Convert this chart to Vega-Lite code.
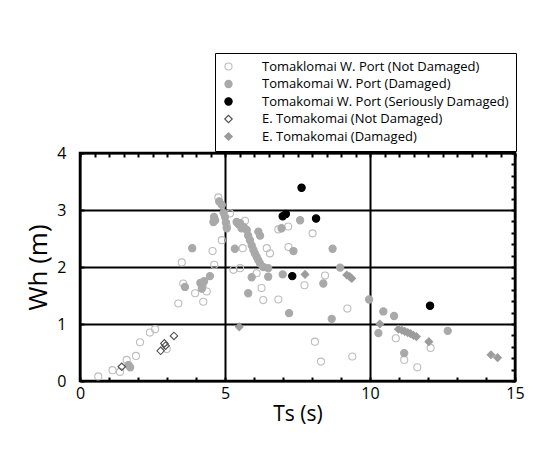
{
  "$schema": "https://vega.github.io/schema/vega-lite/v6.json",
  "width": 435,
  "height": 228,
  "autosize": {"type": "none"},
  "padding": {"left": 80, "top": 153, "right": 18, "bottom": 75},
  "background": "white",
  "config": {
    "view": {"stroke": "black", "strokeWidth": 2.5},
    "font": "Open Sans"
  },
  "data": {
    "values": [
      {"ts": 0.63, "wh": 0.08, "group": "Tomaklomai W. Port (Not Damaged)"},
      {"ts": 1.12, "wh": 0.19, "group": "Tomaklomai W. Port (Not Damaged)"},
      {"ts": 1.38, "wh": 0.16, "group": "Tomaklomai W. Port (Not Damaged)"},
      {"ts": 1.61, "wh": 0.37, "group": "Tomaklomai W. Port (Not Damaged)"},
      {"ts": 1.93, "wh": 0.44, "group": "Tomaklomai W. Port (Not Damaged)"},
      {"ts": 2.07, "wh": 0.68, "group": "Tomaklomai W. Port (Not Damaged)"},
      {"ts": 2.41, "wh": 0.85, "group": "Tomaklomai W. Port (Not Damaged)"},
      {"ts": 2.59, "wh": 0.91, "group": "Tomaklomai W. Port (Not Damaged)"},
      {"ts": 2.99, "wh": 0.56, "group": "Tomaklomai W. Port (Not Damaged)"},
      {"ts": 3.39, "wh": 1.36, "group": "Tomaklomai W. Port (Not Damaged)"},
      {"ts": 3.51, "wh": 2.08, "group": "Tomaklomai W. Port (Not Damaged)"},
      {"ts": 3.56, "wh": 1.71, "group": "Tomaklomai W. Port (Not Damaged)"},
      {"ts": 3.97, "wh": 1.54, "group": "Tomaklomai W. Port (Not Damaged)"},
      {"ts": 4.25, "wh": 1.39, "group": "Tomaklomai W. Port (Not Damaged)"},
      {"ts": 4.37, "wh": 1.57, "group": "Tomaklomai W. Port (Not Damaged)"},
      {"ts": 4.57, "wh": 2.28, "group": "Tomaklomai W. Port (Not Damaged)"},
      {"ts": 4.63, "wh": 2.04, "group": "Tomaklomai W. Port (Not Damaged)"},
      {"ts": 4.77, "wh": 3.22, "group": "Tomaklomai W. Port (Not Damaged)"},
      {"ts": 4.89, "wh": 2.47, "group": "Tomaklomai W. Port (Not Damaged)"},
      {"ts": 5.06, "wh": 2.72, "group": "Tomaklomai W. Port (Not Damaged)"},
      {"ts": 5.17, "wh": 2.94, "group": "Tomaklomai W. Port (Not Damaged)"},
      {"ts": 5.29, "wh": 1.95, "group": "Tomaklomai W. Port (Not Damaged)"},
      {"ts": 5.52, "wh": 1.98, "group": "Tomaklomai W. Port (Not Damaged)"},
      {"ts": 5.61, "wh": 2.33, "group": "Tomaklomai W. Port (Not Damaged)"},
      {"ts": 5.69, "wh": 2.81, "group": "Tomaklomai W. Port (Not Damaged)"},
      {"ts": 6.09, "wh": 1.89, "group": "Tomaklomai W. Port (Not Damaged)"},
      {"ts": 6.26, "wh": 1.63, "group": "Tomaklomai W. Port (Not Damaged)"},
      {"ts": 6.32, "wh": 1.42, "group": "Tomaklomai W. Port (Not Damaged)"},
      {"ts": 6.44, "wh": 2.33, "group": "Tomaklomai W. Port (Not Damaged)"},
      {"ts": 6.55, "wh": 2.24, "group": "Tomaklomai W. Port (Not Damaged)"},
      {"ts": 6.84, "wh": 2.66, "group": "Tomaklomai W. Port (Not Damaged)"},
      {"ts": 6.84, "wh": 1.43, "group": "Tomaklomai W. Port (Not Damaged)"},
      {"ts": 7.18, "wh": 2.71, "group": "Tomaklomai W. Port (Not Damaged)"},
      {"ts": 7.19, "wh": 2.35, "group": "Tomaklomai W. Port (Not Damaged)"},
      {"ts": 7.74, "wh": 1.68, "group": "Tomaklomai W. Port (Not Damaged)"},
      {"ts": 8.02, "wh": 2.59, "group": "Tomaklomai W. Port (Not Damaged)"},
      {"ts": 8.45, "wh": 1.85, "group": "Tomaklomai W. Port (Not Damaged)"},
      {"ts": 8.1, "wh": 0.69, "group": "Tomaklomai W. Port (Not Damaged)"},
      {"ts": 8.31, "wh": 0.34, "group": "Tomaklomai W. Port (Not Damaged)"},
      {"ts": 9.22, "wh": 1.27, "group": "Tomaklomai W. Port (Not Damaged)"},
      {"ts": 9.39, "wh": 0.43, "group": "Tomaklomai W. Port (Not Damaged)"},
      {"ts": 10.89, "wh": 0.75, "group": "Tomaklomai W. Port (Not Damaged)"},
      {"ts": 11.18, "wh": 0.37, "group": "Tomaklomai W. Port (Not Damaged)"},
      {"ts": 11.63, "wh": 0.24, "group": "Tomaklomai W. Port (Not Damaged)"},
      {"ts": 12.09, "wh": 0.58, "group": "Tomaklomai W. Port (Not Damaged)"},

      {"ts": 1.67, "wh": 0.28, "group": "Tomakomai W. Port (Damaged)"},
      {"ts": 1.73, "wh": 0.24, "group": "Tomakomai W. Port (Damaged)"},
      {"ts": 3.62, "wh": 1.65, "group": "Tomakomai W. Port (Damaged)"},
      {"ts": 3.87, "wh": 2.33, "group": "Tomakomai W. Port (Damaged)"},
      {"ts": 4.15, "wh": 1.72, "group": "Tomakomai W. Port (Damaged)"},
      {"ts": 4.22, "wh": 1.66, "group": "Tomakomai W. Port (Damaged)"},
      {"ts": 4.28, "wh": 1.75, "group": "Tomakomai W. Port (Damaged)"},
      {"ts": 4.2, "wh": 1.62, "group": "Tomakomai W. Port (Damaged)"},
      {"ts": 4.48, "wh": 1.84, "group": "Tomakomai W. Port (Damaged)"},
      {"ts": 4.62, "wh": 2.88, "group": "Tomakomai W. Port (Damaged)"},
      {"ts": 4.66, "wh": 2.82, "group": "Tomakomai W. Port (Damaged)"},
      {"ts": 4.6, "wh": 2.79, "group": "Tomakomai W. Port (Damaged)"},
      {"ts": 4.8, "wh": 3.15, "group": "Tomakomai W. Port (Damaged)"},
      {"ts": 4.89, "wh": 3.09, "group": "Tomakomai W. Port (Damaged)"},
      {"ts": 4.95, "wh": 2.95, "group": "Tomakomai W. Port (Damaged)"},
      {"ts": 5.0, "wh": 2.88, "group": "Tomakomai W. Port (Damaged)"},
      {"ts": 5.03, "wh": 2.78, "group": "Tomakomai W. Port (Damaged)"},
      {"ts": 5.06, "wh": 2.68, "group": "Tomakomai W. Port (Damaged)"},
      {"ts": 5.34, "wh": 2.32, "group": "Tomakomai W. Port (Damaged)"},
      {"ts": 5.4, "wh": 2.79, "group": "Tomakomai W. Port (Damaged)"},
      {"ts": 5.47, "wh": 2.75, "group": "Tomakomai W. Port (Damaged)"},
      {"ts": 5.52, "wh": 2.77, "group": "Tomakomai W. Port (Damaged)"},
      {"ts": 5.57, "wh": 2.68, "group": "Tomakomai W. Port (Damaged)"},
      {"ts": 5.65, "wh": 2.7, "group": "Tomakomai W. Port (Damaged)"},
      {"ts": 5.75, "wh": 2.65, "group": "Tomakomai W. Port (Damaged)"},
      {"ts": 5.8, "wh": 2.55, "group": "Tomakomai W. Port (Damaged)"},
      {"ts": 5.86, "wh": 2.47, "group": "Tomakomai W. Port (Damaged)"},
      {"ts": 5.92, "wh": 2.38, "group": "Tomakomai W. Port (Damaged)"},
      {"ts": 5.98, "wh": 2.3, "group": "Tomakomai W. Port (Damaged)"},
      {"ts": 6.03, "wh": 2.24, "group": "Tomakomai W. Port (Damaged)"},
      {"ts": 6.09, "wh": 2.18, "group": "Tomakomai W. Port (Damaged)"},
      {"ts": 6.15, "wh": 2.12, "group": "Tomakomai W. Port (Damaged)"},
      {"ts": 6.21, "wh": 2.06, "group": "Tomakomai W. Port (Damaged)"},
      {"ts": 6.32, "wh": 2.0, "group": "Tomakomai W. Port (Damaged)"},
      {"ts": 6.15, "wh": 2.62, "group": "Tomakomai W. Port (Damaged)"},
      {"ts": 6.21, "wh": 2.55, "group": "Tomakomai W. Port (Damaged)"},
      {"ts": 5.8, "wh": 1.54, "group": "Tomakomai W. Port (Damaged)"},
      {"ts": 5.92, "wh": 1.82, "group": "Tomakomai W. Port (Damaged)"},
      {"ts": 6.49, "wh": 1.98, "group": "Tomakomai W. Port (Damaged)"},
      {"ts": 6.49, "wh": 1.83, "group": "Tomakomai W. Port (Damaged)"},
      {"ts": 6.95, "wh": 2.68, "group": "Tomakomai W. Port (Damaged)"},
      {"ts": 6.99, "wh": 1.87, "group": "Tomakomai W. Port (Damaged)"},
      {"ts": 7.21, "wh": 1.19, "group": "Tomakomai W. Port (Damaged)"},
      {"ts": 7.36, "wh": 2.28, "group": "Tomakomai W. Port (Damaged)"},
      {"ts": 7.59, "wh": 2.82, "group": "Tomakomai W. Port (Damaged)"},
      {"ts": 8.39, "wh": 1.71, "group": "Tomakomai W. Port (Damaged)"},
      {"ts": 8.68, "wh": 1.09, "group": "Tomakomai W. Port (Damaged)"},
      {"ts": 8.71, "wh": 2.32, "group": "Tomakomai W. Port (Damaged)"},
      {"ts": 8.97, "wh": 1.99, "group": "Tomakomai W. Port (Damaged)"},
      {"ts": 9.97, "wh": 1.43, "group": "Tomakomai W. Port (Damaged)"},
      {"ts": 10.46, "wh": 1.22, "group": "Tomakomai W. Port (Damaged)"},
      {"ts": 10.83, "wh": 1.14, "group": "Tomakomai W. Port (Damaged)"},
      {"ts": 10.29, "wh": 0.84, "group": "Tomakomai W. Port (Damaged)"},
      {"ts": 11.18, "wh": 0.49, "group": "Tomakomai W. Port (Damaged)"},
      {"ts": 12.68, "wh": 0.88, "group": "Tomakomai W. Port (Damaged)"},

      {"ts": 1.44, "wh": 0.25, "group": "E. Tomakomai (Not Damaged)"},
      {"ts": 2.78, "wh": 0.53, "group": "E. Tomakomai (Not Damaged)"},
      {"ts": 2.91, "wh": 0.66, "group": "E. Tomakomai (Not Damaged)"},
      {"ts": 2.95, "wh": 0.62, "group": "E. Tomakomai (Not Damaged)"},
      {"ts": 3.24, "wh": 0.79, "group": "E. Tomakomai (Not Damaged)"},

      {"ts": 5.49, "wh": 0.95, "group": "E. Tomakomai (Damaged)"},
      {"ts": 7.76, "wh": 1.87, "group": "E. Tomakomai (Damaged)"},
      {"ts": 9.2, "wh": 1.86, "group": "E. Tomakomai (Damaged)"},
      {"ts": 9.3, "wh": 1.83, "group": "E. Tomakomai (Damaged)"},
      {"ts": 9.37, "wh": 1.8, "group": "E. Tomakomai (Damaged)"},
      {"ts": 10.34, "wh": 1.0, "group": "E. Tomakomai (Damaged)"},
      {"ts": 10.98, "wh": 0.91, "group": "E. Tomakomai (Damaged)"},
      {"ts": 11.1, "wh": 0.89, "group": "E. Tomakomai (Damaged)"},
      {"ts": 11.2, "wh": 0.87, "group": "E. Tomakomai (Damaged)"},
      {"ts": 11.3, "wh": 0.85, "group": "E. Tomakomai (Damaged)"},
      {"ts": 11.4, "wh": 0.83, "group": "E. Tomakomai (Damaged)"},
      {"ts": 11.5, "wh": 0.8, "group": "E. Tomakomai (Damaged)"},
      {"ts": 11.6, "wh": 0.78, "group": "E. Tomakomai (Damaged)"},
      {"ts": 12.03, "wh": 0.69, "group": "E. Tomakomai (Damaged)"},
      {"ts": 14.17, "wh": 0.46, "group": "E. Tomakomai (Damaged)"},
      {"ts": 14.4, "wh": 0.41, "group": "E. Tomakomai (Damaged)"},

      {"ts": 7.64, "wh": 3.39, "group": "Tomakomai W. Port (Seriously Damaged)"},
      {"ts": 6.99, "wh": 2.89, "group": "Tomakomai W. Port (Seriously Damaged)"},
      {"ts": 7.1, "wh": 2.93, "group": "Tomakomai W. Port (Seriously Damaged)"},
      {"ts": 8.14, "wh": 2.85, "group": "Tomakomai W. Port (Seriously Damaged)"},
      {"ts": 7.32, "wh": 1.84, "group": "Tomakomai W. Port (Seriously Damaged)"},
      {"ts": 12.07, "wh": 1.32, "group": "Tomakomai W. Port (Seriously Damaged)"}
    ]
  },
  "layer": [
    {
      "mark": {"type": "point", "filled": true, "strokeWidth": 1.1, "opacity": 1},
      "encoding": {
        "x": {
          "field": "ts", "type": "quantitative",
          "scale": {"domain": [0, 15], "nice": false, "zero": false},
          "axis": {
            "orient": "bottom",
            "tickCount": 30,
            "format": "d",
            "labelExpr": "datum.value % 5 === 0 ? datum.label : ''",
            "labelOverlap": false,
            "labelFlush": false,
            "labelBound": false,
            "grid": true,
            "gridColor": "black",
            "gridWidth": 2,
            "gridOpacity": {"condition": {"test": "datum.value % 5 === 0", "value": 1}, "value": 0},
            "domain": false,
            "tickColor": "black",
            "tickWidth": 2,
            "tickSize": -4,
            "labelFontSize": 16,
            "labelColor": "black",
            "labelPadding": 8,
            "title": "Ts (s)",
            "titleFontSize": 21,
            "titleFontWeight": "normal",
            "titleColor": "black",
            "titlePadding": 2
          }
        },
        "y": {
          "field": "wh", "type": "quantitative",
          "scale": {"domain": [0, 4], "nice": false},
          "axis": {
            "orient": "left",
            "tickCount": 20,
            "format": "d",
            "labelExpr": "datum.value % 1 === 0 ? datum.label : ''",
            "labelOverlap": false,
            "labelFlush": false,
            "labelBound": false,
            "grid": true,
            "gridColor": "black",
            "gridWidth": 2,
            "gridOpacity": {"condition": {"test": "datum.value % 1 === 0", "value": 1}, "value": 0},
            "domain": false,
            "tickColor": "black",
            "tickWidth": 2,
            "tickSize": -4,
            "labelFontSize": 16,
            "labelColor": "black",
            "labelPadding": 18,
            "title": "Wh (m)",
            "titleFontSize": 26,
            "titleFontWeight": "normal",
            "titleColor": "black",
            "titlePadding": 5
          }
        },
        "shape": {
          "field": "group", "type": "nominal",
          "scale": {
            "domain": ["Tomaklomai W. Port (Not Damaged)", "Tomakomai W. Port (Damaged)", "Tomakomai W. Port (Seriously Damaged)", "E. Tomakomai (Not Damaged)", "E. Tomakomai (Damaged)"],
            "range": ["circle", "circle", "circle", "diamond", "diamond"]
          },
          "legend": {
            "orient": "none",
            "legendX": 135,
            "legendY": -100,
            "title": null,
            "strokeColor": "black",
            "fillColor": "white",
            "padding": 7,
            "labelOffset": 27,
            "labelFontSize": 13,
            "labelFont": "Open Sans",
            "labelColor": "black",
            "labelLimit": 400,
            "rowPadding": 3.5,
            "symbolStrokeWidth": 1.1
          }
        },
        "fill": {
          "field": "group", "type": "nominal",
          "scale": {
            "domain": ["Tomaklomai W. Port (Not Damaged)", "Tomakomai W. Port (Damaged)", "Tomakomai W. Port (Seriously Damaged)", "E. Tomakomai (Not Damaged)", "E. Tomakomai (Damaged)"],
            "range": ["transparent", "#a9a9a9", "#000000", "transparent", "#9c9c9c"]
          }
        },
        "stroke": {
          "field": "group", "type": "nominal",
          "scale": {
            "domain": ["Tomaklomai W. Port (Not Damaged)", "Tomakomai W. Port (Damaged)", "Tomakomai W. Port (Seriously Damaged)", "E. Tomakomai (Not Damaged)", "E. Tomakomai (Damaged)"],
            "range": ["#bdbdbd", "#a9a9a9", "#000000", "#505050", "#9c9c9c"]
          }
        },
        "size": {
          "field": "group", "type": "nominal",
          "scale": {
            "domain": ["Tomaklomai W. Port (Not Damaged)", "Tomakomai W. Port (Damaged)", "Tomakomai W. Port (Seriously Damaged)", "E. Tomakomai (Not Damaged)", "E. Tomakomai (Damaged)"],
            "range": [50, 58, 70, 50, 42]
          }
        }
      }
    },
    {
      "mark": {"type": "point", "opacity": 0},
      "encoding": {
        "x": {
          "field": "ts", "type": "quantitative",
          "axis": {
            "orient": "top",
            "tickCount": 30,
            "labels": false,
            "grid": false,
            "domain": false,
            "tickColor": "black",
            "tickWidth": 2,
            "tickSize": -4,
            "title": null
          }
        },
        "y": {
          "field": "wh", "type": "quantitative",
          "axis": {
            "orient": "right",
            "tickCount": 20,
            "labels": false,
            "grid": false,
            "domain": false,
            "tickColor": "black",
            "tickWidth": 2,
            "tickSize": -4,
            "title": null
          }
        }
      }
    }
  ],
  "resolve": {"axis": {"x": "independent", "y": "independent"}}
}
